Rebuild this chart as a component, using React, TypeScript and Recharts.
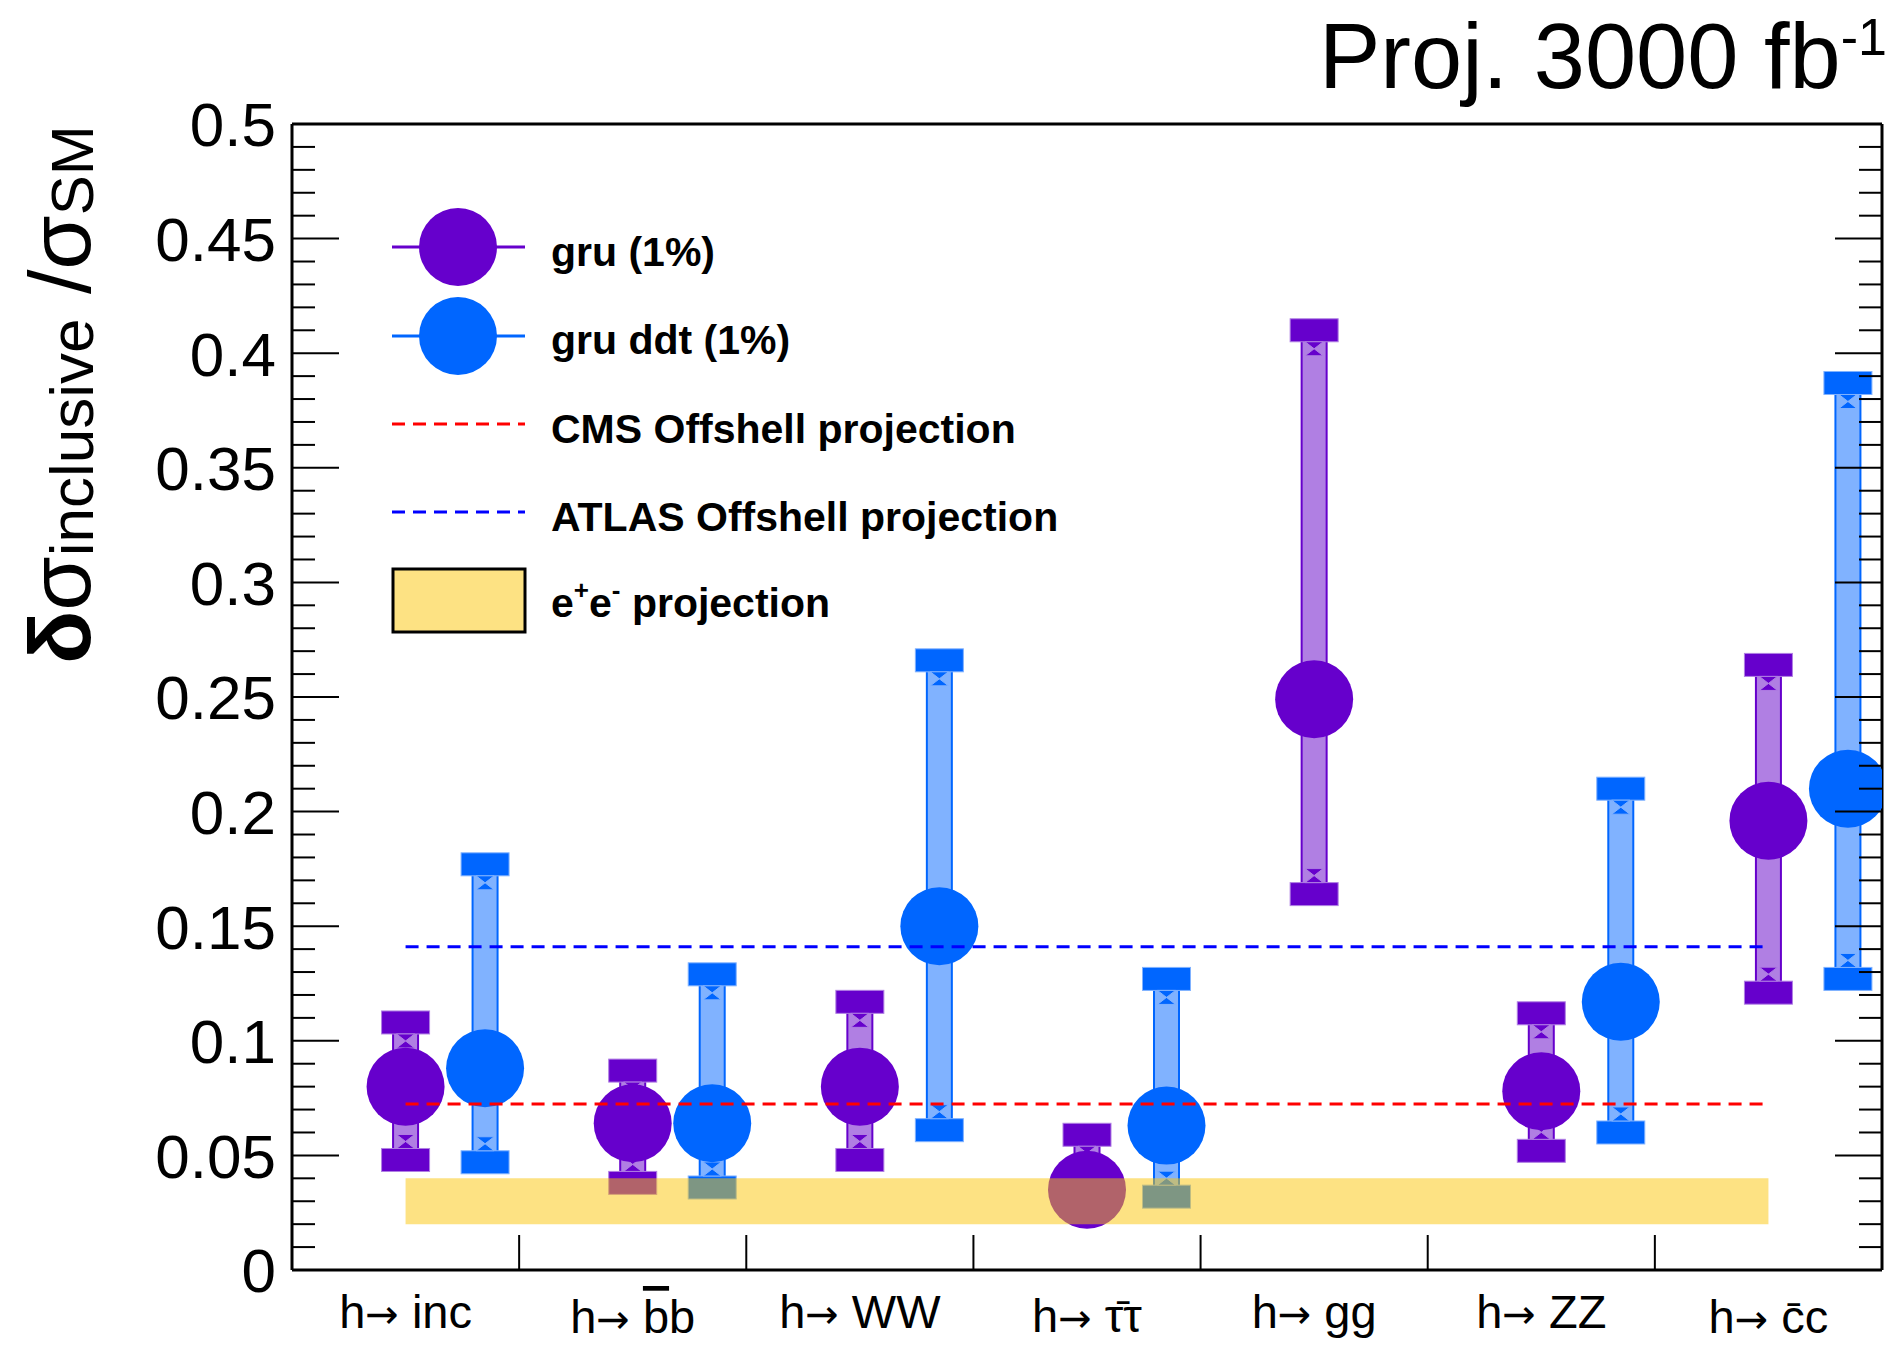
import React from 'react';
import { ComposedChart, XAxis, YAxis, Scatter, ErrorBar, ReferenceLine, ReferenceArea } from 'recharts';

// channels along x, one slot each
const channels = ['inc', 'bb', 'WW', 'tautau', 'gg', 'ZZ', 'cc'];
// label pieces: [barred part, rest]
const channelLabelParts = [
  ['', 'inc'],
  ['b', 'b'],
  ['', 'WW'],
  ['\u03c4', '\u03c4'],
  ['', 'gg'],
  ['', 'ZZ'],
  ['c', 'c'],
];

// gru (1%)
const gruValue = [0.080, 0.064, 0.080, 0.035, 0.249, 0.078, 0.196];
const gruHigh = [0.108, 0.087, 0.117, 0.059, 0.410, 0.112, 0.264];
const gruLow = [0.048, 0.038, 0.048, 0.030, 0.164, 0.052, 0.121];

// gru ddt (1%)
const ddtValue = [0.088, 0.064, 0.150, 0.063, null, 0.117, 0.210];
const ddtHigh = [0.177, 0.129, 0.266, 0.127, null, 0.210, 0.387];
const ddtLow = [0.047, 0.036, 0.061, 0.032, null, 0.060, 0.127];

const cmsOffshell = 0.0724;
const atlasOffshell = 0.141;
const eeBand = [0.02, 0.04];

const yTickLabels = ['0', '0.05', '0.1', '0.15', '0.2', '0.25', '0.3', '0.35', '0.4', '0.45', '0.5'];
const yTicks = Array.from({ length: 51 }, (_, i) => i / 100);
const xLabelTicks = channels.map((_, i) => i + 0.5);
const xBoundaryTicks = [1, 2, 3, 4, 5, 6];

const PURPLE = '#6600cc';
const PURPLE_LIGHT = '#b07fe3';
const BLUE = '#0066ff';
const BLUE_LIGHT = '#80b2ff';
const FONT = '"Liberation Sans", Arial, Helvetica, sans-serif';

// label baseline drop below the axis (barred ones sit lower, like ROOT)
const labelDrop = [58, 63, 58, 62, 58, 58, 63];

const DDT_SHIFT = 0.35;

function points(vals: (number | null)[], hi: (number | null)[], lo: (number | null)[], shift: number) {
  const out: any[] = [];
  vals.forEach((v, i) => {
    if (v == null) return;
    out.push({ x: i + 0.5 + shift, y: v, err: [v - (lo[i] as number), (hi[i] as number) - v] });
  });
  return out;
}

function caps(vals: (number | null)[], hi: (number | null)[], lo: (number | null)[], shift: number) {
  const out: any[] = [];
  vals.forEach((v, i) => {
    if (v == null) return;
    out.push({ x: i + 0.5 + shift, y: hi[i], side: 'up' });
    out.push({ x: i + 0.5 + shift, y: lo[i], side: 'down' });
  });
  return out;
}

const gruPoints = points(gruValue, gruHigh, gruLow, 0);
const ddtPoints = points(ddtValue, ddtHigh, ddtLow, DDT_SHIFT);
const gruCaps = caps(gruValue, gruHigh, gruLow, 0);
const ddtCaps = caps(ddtValue, ddtHigh, ddtLow, DDT_SHIFT);

const makeCap = (dark: string, light: string) => (p: any) => {
  const { cx, cy, payload } = p;
  const dir = payload.side === 'up' ? 1 : -1;
  const t = cy + dir * 11.5;
  const b = t + dir * 14;
  const m = (t + b) / 2;
  return (
    <g>
      <rect x={cx - 24} y={cy - 11.5} width={48} height={23} fill={dark} stroke={light} strokeWidth={1} />
      <polygon
        points={`${cx - 9},${t} ${cx + 9},${t} ${cx},${m} ${cx + 9},${b} ${cx - 9},${b} ${cx},${m}`}
        fill={dark}
        stroke={light}
        strokeWidth={1}
      />
    </g>
  );
};

const makeDot = (color: string) => (p: any) => <circle cx={p.cx} cy={p.cy} r={39} fill={color} />;
const noShape = () => <g />;

const BottomTick = (props: any) => {
  const { x, y, payload } = props;
  const v = payload.value;
  if (Number.isInteger(v)) {
    return <line x1={x} x2={x} y1={y} y2={y - 35} stroke="#000" strokeWidth={2} />;
  }
  const i = Math.floor(v);
  const [bar, rest] = channelLabelParts[i];
  // b has an ascender: use an overline; lowercase letters get a combining macron
  const barred =
    bar === '' ? null : bar === 'b' ? (
      <tspan style={{ textDecoration: 'overline' }}>{bar}</tspan>
    ) : (
      <tspan>{bar + '\u0304'}</tspan>
    );
  return (
    <text x={x} y={y + labelDrop[i]} textAnchor="middle" fontSize={47} fontFamily={FONT} fill="#000">
      h<tspan fontFamily='"DejaVu Sans", sans-serif' fontSize={40}>{'\u2192'}</tspan>
      {' '}
      {barred}
      {rest}
    </text>
  );
};

const TopTick = (props: any) => {
  const { x, y } = props;
  return <line x1={x} x2={x} y1={y} y2={y + 35} stroke="#000" strokeWidth={2} />;
};

const LeftTick = (props: any) => {
  const { x, y, payload } = props;
  const k = Math.round(payload.value * 100);
  const major = k % 5 === 0;
  return (
    <g>
      <line x1={x} x2={x + (major ? 47 : 23)} y1={y} y2={y} stroke="#000" strokeWidth={2} />
      {major && (
        <text x={x - 16} y={y} dy="0.36em" textAnchor="end" fontSize={62} fontFamily={FONT} fill="#000">
          {yTickLabels[k / 5]}
        </text>
      )}
    </g>
  );
};

const RightTick = (props: any) => {
  const { x, y, payload } = props;
  const k = Math.round(payload.value * 100);
  const major = k % 5 === 0;
  return <line x1={x} x2={x - (major ? 47 : 23)} y1={y} y2={y} stroke="#000" strokeWidth={2} />;
};

function Overlay() {
  const legendText = { fontSize: 41, fontWeight: 'bold' as const, fontFamily: FONT, fill: '#000' };
  return (
    <svg width={1901} height={1345} style={{ position: 'absolute', left: 0, top: 0, pointerEvents: 'none' }}>
      {/* title */}
      <text x={1319} y={88} fontSize={92} fontFamily={FONT} fill="#000">
        Proj. 3000 fb
        <tspan fontSize={52} dy={-33}>-1</tspan>
      </text>

      {/* y axis title */}
      <text transform="translate(90,664) rotate(-90)" fontFamily={FONT} fill="#000">
        <tspan fontSize={88} fontWeight="bold">{'\u03b4'}</tspan>
        <tspan fontSize={88}>{'\u03c3'}</tspan>
        <tspan fontSize={62} dy={3}>inclusive</tspan>
        <tspan fontSize={88} dy={-3}>{' /'}</tspan>
        <tspan fontSize={88}>{'\u03c3'}</tspan>
        <tspan fontSize={60} dy={3}>SM</tspan>
      </text>

      {/* legend */}
      <line x1={392} x2={525} y1={247} y2={247} stroke={PURPLE} strokeWidth={3} />
      <circle cx={458} cy={247} r={39} fill={PURPLE} />
      <text x={551} y={266} {...legendText}>gru (1%)</text>

      <line x1={392} x2={525} y1={336} y2={336} stroke={BLUE} strokeWidth={3} />
      <circle cx={458} cy={336} r={39} fill={BLUE} />
      <text x={551} y={354} {...legendText}>gru ddt (1%)</text>

      <line x1={392} x2={525} y1={424} y2={424} stroke="#ff0000" strokeWidth={3} strokeDasharray="13 8" />
      <text x={551} y={443} {...legendText}>CMS Offshell projection</text>

      <line x1={392} x2={525} y1={512} y2={512} stroke="#0000ff" strokeWidth={3} strokeDasharray="13 8" />
      <text x={551} y={531} {...legendText}>ATLAS Offshell projection</text>

      <rect x={393} y={569} width={132} height={63} fill="#fde283" stroke="#000" strokeWidth={3} />
      <text x={551} y={617} {...legendText}>
        e<tspan fontSize={26} dy={-18}>+</tspan>
        <tspan dy={18}>e</tspan>
        <tspan fontSize={26} dy={-18}>-</tspan>
        <tspan dy={18}>{' projection'}</tspan>
      </text>
    </svg>
  );
}

export default function App() {
  return (
    <div style={{ position: 'absolute', left: 0, top: 0, width: 1901, height: 1345, background: '#fff' }}>
      <ComposedChart width={1901} height={1345} margin={{ top: 123, right: 0, bottom: 0, left: 0 }}>
        <XAxis
          xAxisId="b"
          type="number"
          dataKey="x"
          domain={[0, 7]}
          ticks={[...xLabelTicks, ...xBoundaryTicks].sort((a, b) => a - b)}
          interval={0}
          height={75}
          tickSize={0}
          tickMargin={0}
          tickLine={false}
          axisLine={{ stroke: '#000', strokeWidth: 3 }}
          tick={BottomTick}
          allowDataOverflow
        />
        <XAxis
          xAxisId="t"
          orientation="top"
          type="number"
          domain={[0, 7]}
          ticks={xBoundaryTicks}
          interval={0}
          height={1}
          tickSize={0}
          tickMargin={0}
          tickLine={false}
          axisLine={{ stroke: '#000', strokeWidth: 3 }}
          tick={TopTick}
          allowDataOverflow
        />
        <YAxis
          yAxisId="l"
          type="number"
          domain={[0, 0.5]}
          ticks={yTicks}
          interval={0}
          width={292}
          tickSize={0}
          tickMargin={0}
          tickLine={false}
          axisLine={{ stroke: '#000', strokeWidth: 3 }}
          tick={LeftTick}
          allowDataOverflow
        />
        <YAxis
          yAxisId="r"
          orientation="right"
          type="number"
          domain={[0, 0.5]}
          ticks={yTicks}
          interval={0}
          width={19}
          tickSize={0}
          tickMargin={0}
          tickLine={false}
          axisLine={{ stroke: '#000', strokeWidth: 3 }}
          tick={RightTick}
          allowDataOverflow
        />

        {/* error bar bodies */}
        <Scatter xAxisId="b" yAxisId="l" data={gruPoints} dataKey="y" shape={noShape} isAnimationActive={false}>
          <ErrorBar dataKey="err" direction="y" width={0} stroke={PURPLE} strokeWidth={27} isAnimationActive={false} />
          <ErrorBar dataKey="err" direction="y" width={0} stroke={PURPLE_LIGHT} strokeWidth={23} isAnimationActive={false} />
        </Scatter>
        <Scatter xAxisId="b" yAxisId="l" data={ddtPoints} dataKey="y" shape={noShape} isAnimationActive={false}>
          <ErrorBar dataKey="err" direction="y" width={0} stroke={BLUE} strokeWidth={27} isAnimationActive={false} />
          <ErrorBar dataKey="err" direction="y" width={0} stroke={BLUE_LIGHT} strokeWidth={23} isAnimationActive={false} />
        </Scatter>

        {/* caps */}
        <Scatter xAxisId="b" yAxisId="l" data={gruCaps} dataKey="y" shape={makeCap(PURPLE, PURPLE_LIGHT)} isAnimationActive={false} />
        <Scatter xAxisId="b" yAxisId="l" data={ddtCaps} dataKey="y" shape={makeCap(BLUE, BLUE_LIGHT)} isAnimationActive={false} />

        {/* central values */}
        <Scatter xAxisId="b" yAxisId="l" data={gruPoints} dataKey="y" shape={makeDot(PURPLE)} isAnimationActive={false} />
        <Scatter xAxisId="b" yAxisId="l" data={ddtPoints} dataKey="y" shape={makeDot(BLUE)} isAnimationActive={false} />

        <ReferenceLine
          xAxisId="b"
          yAxisId="l"
          segment={[{ x: 0.5, y: cmsOffshell }, { x: 6.5, y: cmsOffshell }]}
          stroke="#ff0000"
          strokeWidth={3}
          strokeDasharray="13 8"
          zIndex={700}
        />
        <ReferenceLine
          xAxisId="b"
          yAxisId="l"
          segment={[{ x: 0.5, y: atlasOffshell }, { x: 6.5, y: atlasOffshell }]}
          stroke="#0000ff"
          strokeWidth={3}
          strokeDasharray="13 8"
          zIndex={700}
        />
        <ReferenceArea
          xAxisId="b"
          yAxisId="l"
          x1={0.5}
          x2={6.5}
          y1={eeBand[0]}
          y2={eeBand[1]}
          fill="rgb(251,197,7)"
          fillOpacity={0.5}
          stroke="none"
          zIndex={800}
        />
      </ComposedChart>
      <Overlay />
    </div>
  );
}
